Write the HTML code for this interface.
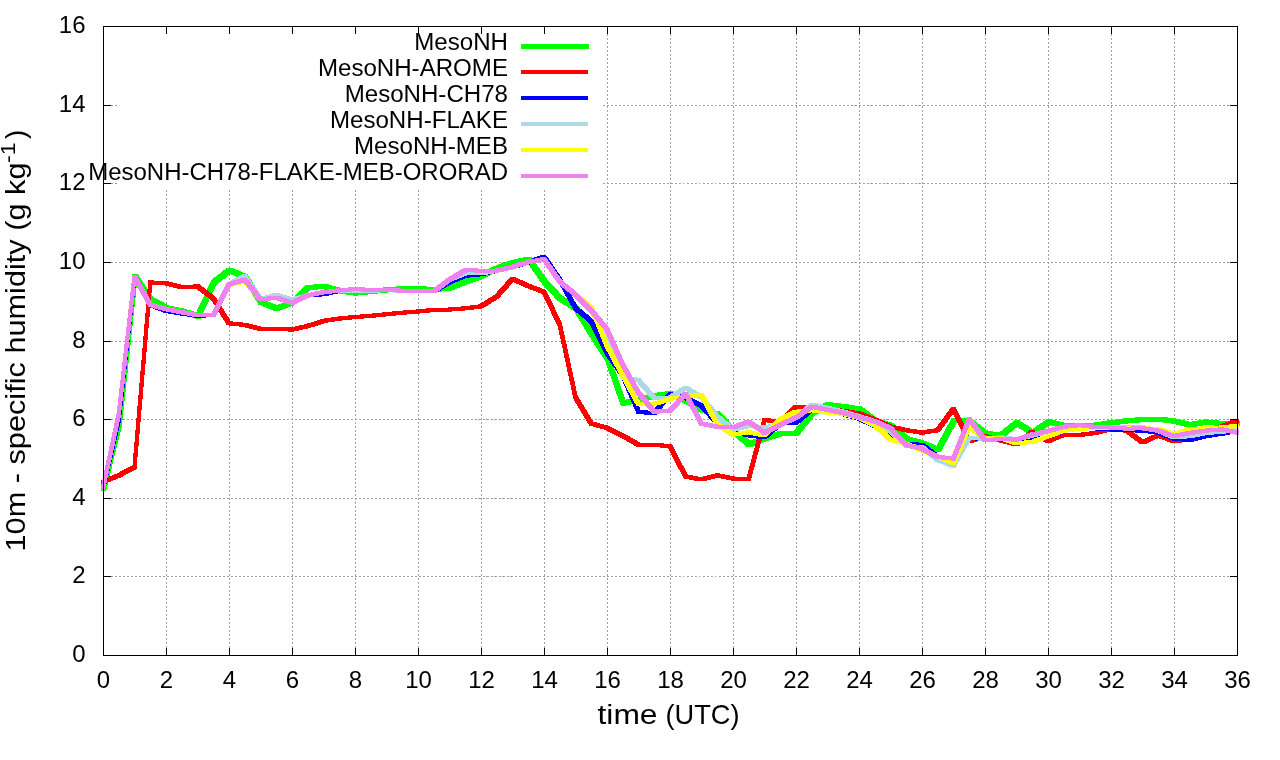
<!DOCTYPE html><html><head><meta charset="utf-8"><style>html,body{margin:0;padding:0;background:#fff;overflow:hidden}svg{display:block;will-change:transform}text{font-family:"Liberation Sans", sans-serif;fill:#000}</style></head><body>
<svg width="1280" height="760" viewBox="0 0 1280 760">
<rect x="0" y="0" width="1280" height="760" fill="#fff"/>
<path d="M166.5 656.0V26.5M229.5 656.0V26.5M292.5 656.0V26.5M355.5 656.0V26.5M418.5 656.0V26.5M481.5 656.0V26.5M544.5 656.0V26.5M607.5 656.0V26.5M670.5 656.0V26.5M733.5 656.0V26.5M796.5 656.0V26.5M859.5 656.0V26.5M922.5 656.0V26.5M985.5 656.0V26.5M1048.5 656.0V26.5M1111.5 656.0V26.5M1174.5 656.0V26.5M102.5 576.5H1237.5M102.5 498.5H1237.5M102.5 419.5H1237.5M102.5 341.5H1237.5M102.5 262.5H1237.5M102.5 183.5H1237.5M102.5 105.5H1237.5" stroke="#a0a0a0" stroke-width="1" stroke-dasharray="2 2" fill="none" shape-rendering="crispEdges"/>
<rect x="118" y="27" width="484" height="162" fill="#fff"/>
<g shape-rendering="crispEdges">
<path d="M101.00 485.92L116.75 421.84L121.75 421.84L121.75 426.84L106.00 490.92L101.00 490.92ZM116.75 421.84L132.50 274.03L137.50 274.03L137.50 279.03L121.75 426.84L116.75 426.84ZM132.50 274.03L137.50 274.03L153.25 296.83L153.25 301.83L148.25 301.83L132.50 279.03ZM148.25 296.83L153.25 296.83L169.00 305.48L169.00 310.48L164.00 310.48L148.25 301.83ZM164.00 305.48L169.00 305.48L184.75 308.62L184.75 313.62L179.75 313.62L164.00 310.48ZM179.75 308.62L184.75 308.62L200.50 313.73L200.50 318.73L195.50 318.73L179.75 313.62ZM195.50 313.73L211.25 279.92L216.25 279.92L216.25 284.92L200.50 318.73L195.50 318.73ZM211.25 279.92L227.00 267.74L232.00 267.74L232.00 272.74L216.25 284.92L211.25 284.92ZM227.00 267.74L232.00 267.74L247.75 274.42L247.75 279.42L242.75 279.42L227.00 272.74ZM242.75 274.42L247.75 274.42L263.50 299.58L263.50 304.58L258.50 304.58L242.75 279.42ZM258.50 299.58L263.50 299.58L279.25 305.87L279.25 310.87L274.25 310.87L258.50 304.58ZM274.25 305.87L290.00 299.97L295.00 299.97L295.00 304.97L279.25 310.87L274.25 310.87ZM290.00 299.97L305.75 285.04L310.75 285.04L310.75 290.04L295.00 304.97L290.00 304.97ZM305.75 285.04L321.50 283.86L326.50 283.86L326.50 288.86L310.75 290.04L305.75 290.04ZM321.50 283.86L326.50 283.86L342.25 288.18L342.25 293.18L337.25 293.18L321.50 288.86ZM337.25 288.18L342.25 288.18L358.00 290.54L358.00 295.54L353.00 295.54L337.25 293.18ZM353.00 290.54L368.75 288.97L373.75 288.97L373.75 293.97L358.00 295.54L353.00 295.54ZM368.75 288.97L384.50 287.39L389.50 287.39L389.50 292.39L373.75 293.97L368.75 293.97ZM384.50 287.39L400.25 286.21L405.25 286.21L405.25 291.21L389.50 292.39L384.50 292.39ZM400.25 286.21L421.00 286.21L421.00 291.21L400.25 291.21ZM416.00 286.21L421.00 286.21L436.75 287.00L436.75 292.00L431.75 292.00L416.00 291.21ZM431.75 287.00L447.50 285.43L452.50 285.43L452.50 290.43L436.75 292.00L431.75 292.00ZM447.50 285.43L463.25 279.14L468.25 279.14L468.25 284.14L452.50 290.43L447.50 290.43ZM463.25 279.14L479.00 273.63L484.00 273.63L484.00 278.63L468.25 284.14L463.25 284.14ZM479.00 273.63L494.75 265.77L499.75 265.77L499.75 270.77L484.00 278.63L479.00 278.63ZM494.75 265.77L510.50 260.27L515.50 260.27L515.50 265.27L499.75 270.77L494.75 270.77ZM510.50 260.27L526.25 256.73L531.25 256.73L531.25 261.73L515.50 265.27L510.50 265.27ZM526.25 256.73L531.25 256.73L547.00 279.14L547.00 284.14L542.00 284.14L526.25 261.73ZM542.00 279.14L547.00 279.14L562.75 296.04L562.75 301.04L557.75 301.04L542.00 284.14ZM557.75 296.04L562.75 296.04L578.50 305.87L578.50 310.87L573.50 310.87L557.75 301.04ZM573.50 305.87L578.50 305.87L594.25 331.42L594.25 336.42L589.25 336.42L573.50 310.87ZM589.25 331.42L594.25 331.42L610.00 355.80L610.00 360.80L605.00 360.80L589.25 336.42ZM605.00 355.80L610.00 355.80L625.75 400.61L625.75 405.61L620.75 405.61L605.00 360.80ZM620.75 400.61L636.50 397.47L641.50 397.47L641.50 402.47L625.75 405.61L620.75 405.61ZM636.50 397.47L652.25 393.14L657.25 393.14L657.25 398.14L641.50 402.47L636.50 402.47ZM652.25 393.14L668.00 391.18L673.00 391.18L673.00 396.18L657.25 398.14L652.25 398.14ZM668.00 391.18L673.00 391.18L688.75 398.25L688.75 403.25L683.75 403.25L668.00 396.18ZM683.75 398.25L688.75 398.25L704.50 407.30L704.50 412.30L699.50 412.30L683.75 403.25ZM699.50 407.30L704.50 407.30L720.25 411.62L720.25 416.62L715.25 416.62L699.50 412.30ZM715.25 411.62L720.25 411.62L736.00 428.53L736.00 433.53L731.00 433.53L715.25 416.62ZM731.00 428.53L736.00 428.53L751.75 441.89L751.75 446.89L746.75 446.89L731.00 433.53ZM746.75 441.89L762.50 436.00L767.50 436.00L767.50 441.00L751.75 446.89L746.75 446.89ZM762.50 436.00L778.25 431.28L783.25 431.28L783.25 436.28L767.50 441.00L762.50 441.00ZM778.25 431.28L794.00 430.49L799.00 430.49L799.00 435.49L783.25 436.28L778.25 436.28ZM794.00 430.49L809.75 410.84L814.75 410.84L814.75 415.84L799.00 435.49L794.00 435.49ZM809.75 410.84L825.50 402.19L830.50 402.19L830.50 407.19L814.75 415.84L809.75 415.84ZM825.50 402.19L830.50 402.19L846.25 404.15L846.25 409.15L841.25 409.15L825.50 407.19ZM841.25 404.15L846.25 404.15L862.00 406.51L862.00 411.51L857.00 411.51L841.25 409.15ZM857.00 406.51L862.00 406.51L877.75 418.30L877.75 423.30L872.75 423.30L857.00 411.51ZM872.75 418.30L877.75 418.30L893.50 423.02L893.50 428.02L888.50 428.02L872.75 423.30ZM888.50 423.02L893.50 423.02L909.25 436.39L909.25 441.39L904.25 441.39L888.50 428.02ZM904.25 436.39L909.25 436.39L925.00 440.71L925.00 445.71L920.00 445.71L904.25 441.39ZM920.00 440.71L925.00 440.71L940.75 447.40L940.75 452.40L935.75 452.40L920.00 445.71ZM935.75 447.40L951.50 417.91L956.50 417.91L956.50 422.91L940.75 452.40L935.75 452.40ZM951.50 417.91L956.50 417.91L972.25 418.70L972.25 423.70L967.25 423.70L951.50 422.91ZM967.25 418.70L972.25 418.70L988.00 430.88L988.00 435.88L983.00 435.88L967.25 423.70ZM983.00 430.88L988.00 430.88L1003.75 432.85L1003.75 437.85L998.75 437.85L983.00 435.88ZM998.75 432.85L1014.50 420.27L1019.50 420.27L1019.50 425.27L1003.75 437.85L998.75 437.85ZM1014.50 420.27L1019.50 420.27L1035.25 430.49L1035.25 435.49L1030.25 435.49L1014.50 425.27ZM1030.25 430.49L1046.00 419.48L1051.00 419.48L1051.00 424.48L1035.25 435.49L1030.25 435.49ZM1046.00 419.48L1051.00 419.48L1066.75 423.02L1066.75 428.02L1061.75 428.02L1046.00 424.48ZM1061.75 423.02L1082.50 423.02L1082.50 428.02L1061.75 428.02ZM1077.50 423.02L1093.25 422.63L1098.25 422.63L1098.25 427.63L1082.50 428.02L1077.50 428.02ZM1093.25 422.63L1109.00 420.27L1114.00 420.27L1114.00 425.27L1098.25 427.63L1093.25 427.63ZM1109.00 420.27L1124.75 418.30L1129.75 418.30L1129.75 423.30L1114.00 425.27L1109.00 425.27ZM1124.75 418.30L1140.50 417.12L1145.50 417.12L1145.50 422.12L1129.75 423.30L1124.75 423.30ZM1140.50 417.12L1156.25 416.73L1161.25 416.73L1161.25 421.73L1145.50 422.12L1140.50 422.12ZM1156.25 416.73L1161.25 416.73L1177.00 418.70L1177.00 423.70L1172.00 423.70L1156.25 421.73ZM1172.00 418.70L1177.00 418.70L1192.75 422.24L1192.75 427.24L1187.75 427.24L1172.00 423.70ZM1187.75 422.24L1203.50 419.48L1208.50 419.48L1208.50 424.48L1192.75 427.24L1187.75 427.24ZM1203.50 419.48L1208.50 419.48L1224.25 421.06L1224.25 426.06L1219.25 426.06L1203.50 424.48ZM1219.25 421.06L1235.00 420.66L1240.00 420.66L1240.00 425.66L1224.25 426.06L1219.25 426.06Z" fill="#00ff00"/>
<path d="M101.00 479.74L116.75 473.45L120.75 473.45L120.75 477.45L105.00 483.74L101.00 483.74ZM116.75 473.45L132.50 465.19L136.50 465.19L136.50 469.19L120.75 477.45L116.75 477.45ZM132.50 465.19L148.25 280.42L152.25 280.42L152.25 284.42L136.50 469.19L132.50 469.19ZM148.25 280.42L152.25 280.42L168.00 281.21L168.00 285.21L164.00 285.21L148.25 284.42ZM164.00 281.21L168.00 281.21L183.75 285.14L183.75 289.14L179.75 289.14L164.00 285.21ZM179.75 285.14L195.50 284.36L199.50 284.36L199.50 288.36L183.75 289.14L179.75 289.14ZM195.50 284.36L199.50 284.36L215.25 296.15L215.25 300.15L211.25 300.15L195.50 288.36ZM211.25 296.15L215.25 296.15L231.00 321.31L231.00 325.31L227.00 325.31L211.25 300.15ZM227.00 321.31L231.00 321.31L246.75 322.88L246.75 326.88L242.75 326.88L227.00 325.31ZM242.75 322.88L246.75 322.88L262.50 326.81L262.50 330.81L258.50 330.81L242.75 326.88ZM258.50 326.81L278.25 326.81L278.25 330.81L258.50 330.81ZM274.25 326.81L278.25 326.81L294.00 327.60L294.00 331.60L290.00 331.60L274.25 330.81ZM290.00 327.60L305.75 324.06L309.75 324.06L309.75 328.06L294.00 331.60L290.00 331.60ZM305.75 324.06L321.50 318.95L325.50 318.95L325.50 322.95L309.75 328.06L305.75 328.06ZM321.50 318.95L337.25 316.59L341.25 316.59L341.25 320.59L325.50 322.95L321.50 322.95ZM337.25 316.59L353.00 315.02L357.00 315.02L357.00 319.02L341.25 320.59L337.25 320.59ZM353.00 315.02L368.75 313.84L372.75 313.84L372.75 317.84L357.00 319.02L353.00 319.02ZM368.75 313.84L384.50 312.27L388.50 312.27L388.50 316.27L372.75 317.84L368.75 317.84ZM384.50 312.27L400.25 310.69L404.25 310.69L404.25 314.69L388.50 316.27L384.50 316.27ZM400.25 310.69L416.00 309.52L420.00 309.52L420.00 313.52L404.25 314.69L400.25 314.69ZM416.00 309.52L431.75 307.94L435.75 307.94L435.75 311.94L420.00 313.52L416.00 313.52ZM431.75 307.94L447.50 307.55L451.50 307.55L451.50 311.55L435.75 311.94L431.75 311.94ZM447.50 307.55L463.25 306.37L467.25 306.37L467.25 310.37L451.50 311.55L447.50 311.55ZM463.25 306.37L479.00 304.40L483.00 304.40L483.00 308.40L467.25 310.37L463.25 310.37ZM479.00 304.40L494.75 294.58L498.75 294.58L498.75 298.58L483.00 308.40L479.00 308.40ZM494.75 294.58L510.50 276.89L514.50 276.89L514.50 280.89L498.75 298.58L494.75 298.58ZM510.50 276.89L514.50 276.89L530.25 283.96L530.25 287.96L526.25 287.96L510.50 280.89ZM526.25 283.96L530.25 283.96L546.00 289.86L546.00 293.86L542.00 293.86L526.25 287.96ZM542.00 289.86L546.00 289.86L561.75 322.49L561.75 326.49L557.75 326.49L542.00 293.86ZM557.75 322.49L561.75 322.49L577.50 395.22L577.50 399.22L573.50 399.22L557.75 326.49ZM573.50 395.22L577.50 395.22L593.25 421.56L593.25 425.56L589.25 425.56L573.50 399.22ZM589.25 421.56L593.25 421.56L609.00 425.88L609.00 429.88L605.00 429.88L589.25 425.56ZM605.00 425.88L609.00 425.88L624.75 433.74L624.75 437.74L620.75 437.74L605.00 429.88ZM620.75 433.74L624.75 433.74L640.50 442.78L640.50 446.78L636.50 446.78L620.75 437.74ZM636.50 442.78L656.25 442.78L656.25 446.78L636.50 446.78ZM652.25 442.78L656.25 442.78L672.00 444.36L672.00 448.36L668.00 448.36L652.25 446.78ZM668.00 444.36L672.00 444.36L687.75 474.63L687.75 478.63L683.75 478.63L668.00 448.36ZM683.75 474.63L687.75 474.63L703.50 477.38L703.50 481.38L699.50 481.38L683.75 478.63ZM699.50 477.38L715.25 473.45L719.25 473.45L719.25 477.45L703.50 481.38L699.50 481.38ZM715.25 473.45L719.25 473.45L735.00 476.59L735.00 480.59L731.00 480.59L715.25 477.45ZM731.00 476.59L750.75 476.59L750.75 480.59L731.00 480.59ZM746.75 476.59L762.50 418.02L766.50 418.02L766.50 422.02L750.75 480.59L746.75 480.59ZM762.50 418.02L766.50 418.02L782.25 419.59L782.25 423.59L778.25 423.59L762.50 422.02ZM778.25 419.59L794.00 404.65L798.00 404.65L798.00 408.65L782.25 423.59L778.25 423.59ZM794.00 404.65L798.00 404.65L813.75 405.44L813.75 409.44L809.75 409.44L794.00 408.65ZM809.75 405.44L813.75 405.44L829.50 406.62L829.50 410.62L825.50 410.62L809.75 409.44ZM825.50 406.62L829.50 406.62L845.25 408.98L845.25 412.98L841.25 412.98L825.50 410.62ZM841.25 408.98L845.25 408.98L861.00 411.34L861.00 415.34L857.00 415.34L841.25 412.98ZM857.00 411.34L861.00 411.34L876.75 417.62L876.75 421.62L872.75 421.62L857.00 415.34ZM872.75 417.62L876.75 417.62L892.50 424.70L892.50 428.70L888.50 428.70L872.75 421.62ZM888.50 424.70L892.50 424.70L908.25 428.24L908.25 432.24L904.25 432.24L888.50 428.70ZM904.25 428.24L908.25 428.24L924.00 430.60L924.00 434.60L920.00 434.60L904.25 432.24ZM920.00 430.60L935.75 428.24L939.75 428.24L939.75 432.24L924.00 434.60L920.00 434.60ZM935.75 428.24L951.50 406.62L955.50 406.62L955.50 410.62L939.75 432.24L935.75 432.24ZM951.50 406.62L955.50 406.62L971.25 439.25L971.25 443.25L967.25 443.25L951.50 410.62ZM967.25 439.25L983.00 434.14L987.00 434.14L987.00 438.14L971.25 443.25L967.25 443.25ZM983.00 434.14L987.00 434.14L1002.75 438.46L1002.75 442.46L998.75 442.46L983.00 438.14ZM998.75 438.46L1002.75 438.46L1018.50 442.39L1018.50 446.39L1014.50 446.39L998.75 442.46ZM1014.50 442.39L1030.25 429.81L1034.25 429.81L1034.25 433.81L1018.50 446.39L1014.50 446.39ZM1030.25 429.81L1034.25 429.81L1050.00 439.25L1050.00 443.25L1046.00 443.25L1030.25 433.81ZM1046.00 439.25L1061.75 432.56L1065.75 432.56L1065.75 436.56L1050.00 443.25L1046.00 443.25ZM1061.75 432.56L1065.75 432.56L1081.50 432.96L1081.50 436.96L1077.50 436.96L1061.75 436.56ZM1077.50 432.96L1093.25 430.99L1097.25 430.99L1097.25 434.99L1081.50 436.96L1077.50 436.96ZM1093.25 430.99L1109.00 427.06L1113.00 427.06L1113.00 431.06L1097.25 434.99L1093.25 434.99ZM1109.00 427.06L1113.00 427.06L1128.75 428.63L1128.75 432.63L1124.75 432.63L1109.00 431.06ZM1124.75 428.63L1128.75 428.63L1144.50 440.43L1144.50 444.43L1140.50 444.43L1124.75 432.63ZM1140.50 440.43L1156.25 433.35L1160.25 433.35L1160.25 437.35L1144.50 444.43L1140.50 444.43ZM1156.25 433.35L1160.25 433.35L1176.00 439.25L1176.00 443.25L1172.00 443.25L1156.25 437.35ZM1172.00 439.25L1187.75 437.28L1191.75 437.28L1191.75 441.28L1176.00 443.25L1172.00 443.25ZM1187.75 437.28L1203.50 433.35L1207.50 433.35L1207.50 437.35L1191.75 441.28L1187.75 441.28ZM1203.50 433.35L1219.25 424.70L1223.25 424.70L1223.25 428.70L1207.50 437.35L1203.50 437.35ZM1219.25 424.70L1235.00 418.80L1239.00 418.80L1239.00 422.80L1223.25 428.70L1219.25 428.70Z" fill="#ff0000"/>
<path d="M101.00 486.42L116.75 417.62L120.75 417.62L120.75 421.62L105.00 490.42L101.00 490.42ZM116.75 417.62L132.50 274.53L136.50 274.53L136.50 278.53L120.75 421.62L116.75 421.62ZM132.50 274.53L136.50 274.53L152.25 302.83L152.25 306.83L148.25 306.83L132.50 278.53ZM148.25 302.83L152.25 302.83L168.00 308.73L168.00 312.73L164.00 312.73L148.25 306.83ZM164.00 308.73L168.00 308.73L183.75 311.48L183.75 315.48L179.75 315.48L164.00 312.73ZM179.75 311.48L183.75 311.48L199.50 313.84L199.50 317.84L195.50 317.84L179.75 315.48ZM195.50 313.84L211.25 313.05L215.25 313.05L215.25 317.05L199.50 317.84L195.50 317.84ZM211.25 313.05L227.00 282.39L231.00 282.39L231.00 286.39L215.25 317.05L211.25 317.05ZM227.00 282.39L242.75 277.67L246.75 277.67L246.75 281.67L231.00 286.39L227.00 286.39ZM242.75 277.67L246.75 277.67L262.50 297.33L262.50 301.33L258.50 301.33L242.75 281.67ZM258.50 297.33L274.25 295.76L278.25 295.76L278.25 299.76L262.50 301.33L258.50 301.33ZM274.25 295.76L278.25 295.76L294.00 300.87L294.00 304.87L290.00 304.87L274.25 299.76ZM290.00 300.87L305.75 293.40L309.75 293.40L309.75 297.40L294.00 304.87L290.00 304.87ZM305.75 293.40L321.50 292.22L325.50 292.22L325.50 296.22L309.75 297.40L305.75 297.40ZM321.50 292.22L337.25 288.68L341.25 288.68L341.25 292.68L325.50 296.22L321.50 296.22ZM337.25 288.68L353.00 287.89L357.00 287.89L357.00 291.89L341.25 292.68L337.25 292.68ZM353.00 287.89L357.00 287.89L372.75 288.68L372.75 292.68L368.75 292.68L353.00 291.89ZM368.75 288.68L384.50 287.89L388.50 287.89L388.50 291.89L372.75 292.68L368.75 292.68ZM384.50 287.89L388.50 287.89L404.25 288.68L404.25 292.68L400.25 292.68L384.50 291.89ZM400.25 288.68L404.25 288.68L420.00 289.47L420.00 293.47L416.00 293.47L400.25 292.68ZM416.00 289.47L435.75 289.47L435.75 293.47L416.00 293.47ZM431.75 289.47L447.50 280.03L451.50 280.03L451.50 284.03L435.75 293.47L431.75 293.47ZM447.50 280.03L463.25 273.74L467.25 273.74L467.25 277.74L451.50 284.03L447.50 284.03ZM463.25 273.74L479.00 272.17L483.00 272.17L483.00 276.17L467.25 277.74L463.25 277.74ZM479.00 272.17L494.75 268.63L498.75 268.63L498.75 272.63L483.00 276.17L479.00 276.17ZM494.75 268.63L510.50 265.09L514.50 265.09L514.50 269.09L498.75 272.63L494.75 272.63ZM510.50 265.09L526.25 260.38L530.25 260.38L530.25 264.38L514.50 269.09L510.50 269.09ZM526.25 260.38L542.00 254.87L546.00 254.87L546.00 258.87L530.25 264.38L526.25 264.38ZM542.00 254.87L546.00 254.87L561.75 277.67L561.75 281.67L557.75 281.67L542.00 258.87ZM557.75 277.67L561.75 277.67L577.50 305.98L577.50 309.98L573.50 309.98L557.75 281.67ZM573.50 305.98L577.50 305.98L593.25 319.34L593.25 323.34L589.25 323.34L573.50 309.98ZM589.25 319.34L593.25 319.34L609.00 351.19L609.00 355.19L605.00 355.19L589.25 323.34ZM605.00 351.19L609.00 351.19L624.75 373.20L624.75 377.20L620.75 377.20L605.00 355.19ZM620.75 373.20L624.75 373.20L640.50 409.76L640.50 413.76L636.50 413.76L620.75 377.20ZM636.50 409.76L640.50 409.76L656.25 411.34L656.25 415.34L652.25 415.34L636.50 413.76ZM652.25 411.34L668.00 392.07L672.00 392.07L672.00 396.07L656.25 415.34L652.25 415.34ZM668.00 392.07L672.00 392.07L687.75 396.00L687.75 400.00L683.75 400.00L668.00 396.07ZM683.75 396.00L687.75 396.00L703.50 403.87L703.50 407.87L699.50 407.87L683.75 400.00ZM699.50 403.87L703.50 403.87L719.25 420.77L719.25 424.77L715.25 424.77L699.50 407.87ZM715.25 420.77L719.25 420.77L735.00 430.21L735.00 434.21L731.00 434.21L715.25 424.77ZM731.00 430.21L735.00 430.21L750.75 433.35L750.75 437.35L746.75 437.35L731.00 434.21ZM746.75 433.35L750.75 433.35L766.50 435.32L766.50 439.32L762.50 439.32L746.75 437.35ZM762.50 435.32L778.25 421.56L782.25 421.56L782.25 425.56L766.50 439.32L762.50 439.32ZM778.25 421.56L794.00 420.77L798.00 420.77L798.00 424.77L782.25 425.56L778.25 425.56ZM794.00 420.77L809.75 407.40L813.75 407.40L813.75 411.40L798.00 424.77L794.00 424.77ZM809.75 407.40L813.75 407.40L829.50 408.98L829.50 412.98L825.50 412.98L809.75 411.40ZM825.50 408.98L829.50 408.98L845.25 412.12L845.25 416.12L841.25 416.12L825.50 412.98ZM841.25 412.12L845.25 412.12L861.00 416.45L861.00 420.45L857.00 420.45L841.25 416.12ZM857.00 416.45L861.00 416.45L876.75 423.91L876.75 427.91L872.75 427.91L857.00 420.45ZM872.75 423.91L876.75 423.91L892.50 435.71L892.50 439.71L888.50 439.71L872.75 427.91ZM888.50 435.71L892.50 435.71L908.25 442.00L908.25 446.00L904.25 446.00L888.50 439.71ZM904.25 442.00L908.25 442.00L924.00 442.78L924.00 446.78L920.00 446.78L904.25 446.00ZM920.00 442.78L924.00 442.78L939.75 454.97L939.75 458.97L935.75 458.97L920.00 446.78ZM935.75 454.97L939.75 454.97L955.50 458.90L955.50 462.90L951.50 462.90L935.75 458.97ZM951.50 458.90L967.25 435.71L971.25 435.71L971.25 439.71L955.50 462.90L951.50 462.90ZM967.25 435.71L971.25 435.71L987.00 437.28L987.00 441.28L983.00 441.28L967.25 439.71ZM983.00 437.28L1002.75 437.28L1002.75 441.28L983.00 441.28ZM998.75 437.28L1002.75 437.28L1018.50 439.25L1018.50 443.25L1014.50 443.25L998.75 441.28ZM1014.50 439.25L1030.25 437.28L1034.25 437.28L1034.25 441.28L1018.50 443.25L1014.50 443.25ZM1030.25 437.28L1046.00 434.53L1050.00 434.53L1050.00 438.53L1034.25 441.28L1030.25 441.28ZM1046.00 434.53L1061.75 428.63L1065.75 428.63L1065.75 432.63L1050.00 438.53L1046.00 438.53ZM1061.75 428.63L1077.50 426.27L1081.50 426.27L1081.50 430.27L1065.75 432.63L1061.75 432.63ZM1077.50 426.27L1097.25 426.27L1097.25 430.27L1077.50 430.27ZM1093.25 426.27L1097.25 426.27L1113.00 427.45L1113.00 431.45L1109.00 431.45L1093.25 430.27ZM1109.00 427.45L1113.00 427.45L1128.75 428.24L1128.75 432.24L1124.75 432.24L1109.00 431.45ZM1124.75 428.24L1128.75 428.24L1144.50 428.63L1144.50 432.63L1140.50 432.63L1124.75 432.24ZM1140.50 428.63L1144.50 428.63L1160.25 430.60L1160.25 434.60L1156.25 434.60L1140.50 432.63ZM1156.25 430.60L1160.25 430.60L1176.00 436.50L1176.00 440.50L1172.00 440.50L1156.25 434.60ZM1172.00 436.50L1176.00 436.50L1191.75 438.07L1191.75 442.07L1187.75 442.07L1172.00 440.50ZM1187.75 438.07L1203.50 434.14L1207.50 434.14L1207.50 438.14L1191.75 442.07L1187.75 442.07ZM1203.50 434.14L1219.25 431.78L1223.25 431.78L1223.25 435.78L1207.50 438.14L1203.50 438.14ZM1219.25 431.78L1235.00 428.63L1239.00 428.63L1239.00 432.63L1223.25 435.78L1219.25 435.78Z" fill="#0000ff"/>
<path d="M101.00 486.03L116.75 412.51L120.75 412.51L120.75 416.51L105.00 490.03L101.00 490.03ZM116.75 412.51L132.50 274.53L136.50 274.53L136.50 278.53L120.75 416.51L116.75 416.51ZM132.50 274.53L136.50 274.53L152.25 302.83L152.25 306.83L148.25 306.83L132.50 278.53ZM148.25 302.83L152.25 302.83L168.00 307.16L168.00 311.16L164.00 311.16L148.25 306.83ZM164.00 307.16L168.00 307.16L183.75 310.30L183.75 314.30L179.75 314.30L164.00 311.16ZM179.75 310.30L183.75 310.30L199.50 313.05L199.50 317.05L195.50 317.05L179.75 314.30ZM195.50 313.05L215.25 313.05L215.25 317.05L195.50 317.05ZM211.25 313.05L227.00 282.39L231.00 282.39L231.00 286.39L215.25 317.05L211.25 317.05ZM227.00 282.39L242.75 274.13L246.75 274.13L246.75 278.13L231.00 286.39L227.00 286.39ZM242.75 274.13L246.75 274.13L262.50 297.33L262.50 301.33L258.50 301.33L242.75 278.13ZM258.50 297.33L274.25 293.00L278.25 293.00L278.25 297.00L262.50 301.33L258.50 301.33ZM274.25 293.00L278.25 293.00L294.00 297.72L294.00 301.72L290.00 301.72L274.25 297.00ZM290.00 297.72L305.75 293.40L309.75 293.40L309.75 297.40L294.00 301.72L290.00 301.72ZM305.75 293.40L321.50 290.25L325.50 290.25L325.50 294.25L309.75 297.40L305.75 297.40ZM321.50 290.25L337.25 288.29L341.25 288.29L341.25 292.29L325.50 294.25L321.50 294.25ZM337.25 288.29L341.25 288.29L357.00 289.47L357.00 293.47L353.00 293.47L337.25 292.29ZM353.00 289.47L368.75 288.68L372.75 288.68L372.75 292.68L357.00 293.47L353.00 293.47ZM368.75 288.68L384.50 288.29L388.50 288.29L388.50 292.29L372.75 292.68L368.75 292.68ZM384.50 288.29L388.50 288.29L404.25 288.68L404.25 292.68L400.25 292.68L384.50 292.29ZM400.25 288.68L404.25 288.68L420.00 289.47L420.00 293.47L416.00 293.47L400.25 292.68ZM416.00 289.47L435.75 289.47L435.75 293.47L416.00 293.47ZM431.75 289.47L447.50 277.67L451.50 277.67L451.50 281.67L435.75 293.47L431.75 293.47ZM447.50 277.67L463.25 271.38L467.25 271.38L467.25 275.38L451.50 281.67L447.50 281.67ZM463.25 271.38L483.00 271.38L483.00 275.38L463.25 275.38ZM479.00 271.38L494.75 268.63L498.75 268.63L498.75 272.63L483.00 275.38L479.00 275.38ZM494.75 268.63L510.50 265.09L514.50 265.09L514.50 269.09L498.75 272.63L494.75 272.63ZM510.50 265.09L526.25 259.98L530.25 259.98L530.25 263.98L514.50 269.09L510.50 269.09ZM526.25 259.98L542.00 257.23L546.00 257.23L546.00 261.23L530.25 263.98L526.25 263.98ZM542.00 257.23L546.00 257.23L561.75 279.64L561.75 283.64L557.75 283.64L542.00 261.23ZM557.75 279.64L561.75 279.64L577.50 292.61L577.50 296.61L573.50 296.61L557.75 283.64ZM573.50 292.61L577.50 292.61L593.25 308.34L593.25 312.34L589.25 312.34L573.50 296.61ZM589.25 308.34L593.25 308.34L609.00 335.07L609.00 339.07L605.00 339.07L589.25 312.34ZM605.00 335.07L609.00 335.07L624.75 374.77L624.75 378.77L620.75 378.77L605.00 339.07ZM620.75 374.77L624.75 374.77L640.50 378.31L640.50 382.31L636.50 382.31L620.75 378.77ZM636.50 378.31L640.50 378.31L656.25 396.00L656.25 400.00L652.25 400.00L636.50 382.31ZM652.25 396.00L668.00 395.61L672.00 395.61L672.00 399.61L656.25 400.00L652.25 400.00ZM668.00 395.61L683.75 385.78L687.75 385.78L687.75 389.78L672.00 399.61L668.00 399.61ZM683.75 385.78L687.75 385.78L703.50 395.22L703.50 399.22L699.50 399.22L683.75 389.78ZM699.50 395.22L703.50 395.22L719.25 414.48L719.25 418.48L715.25 418.48L699.50 399.22ZM715.25 414.48L719.25 414.48L735.00 427.85L735.00 431.85L731.00 431.85L715.25 418.48ZM731.00 427.85L746.75 423.91L750.75 423.91L750.75 427.91L735.00 431.85L731.00 431.85ZM746.75 423.91L750.75 423.91L766.50 425.49L766.50 429.49L762.50 429.49L746.75 427.91ZM762.50 425.49L778.25 422.74L782.25 422.74L782.25 426.74L766.50 429.49L762.50 429.49ZM778.25 422.74L794.00 415.66L798.00 415.66L798.00 419.66L782.25 426.74L778.25 426.74ZM794.00 415.66L809.75 402.69L813.75 402.69L813.75 406.69L798.00 419.66L794.00 419.66ZM809.75 402.69L813.75 402.69L829.50 405.83L829.50 409.83L825.50 409.83L809.75 406.69ZM825.50 405.83L829.50 405.83L845.25 409.76L845.25 413.76L841.25 413.76L825.50 409.83ZM841.25 409.76L845.25 409.76L861.00 414.48L861.00 418.48L857.00 418.48L841.25 413.76ZM857.00 414.48L861.00 414.48L876.75 419.20L876.75 423.20L872.75 423.20L857.00 418.48ZM872.75 419.20L876.75 419.20L892.50 429.42L892.50 433.42L888.50 433.42L872.75 423.20ZM888.50 429.42L892.50 429.42L908.25 443.96L908.25 447.96L904.25 447.96L888.50 433.42ZM904.25 443.96L908.25 443.96L924.00 445.14L924.00 449.14L920.00 449.14L904.25 447.96ZM920.00 445.14L924.00 445.14L939.75 458.12L939.75 462.12L935.75 462.12L920.00 449.14ZM935.75 458.12L939.75 458.12L955.50 463.62L955.50 467.62L951.50 467.62L935.75 462.12ZM951.50 463.62L967.25 435.71L971.25 435.71L971.25 439.71L955.50 467.62L951.50 467.62ZM967.25 435.71L971.25 435.71L987.00 436.89L987.00 440.89L983.00 440.89L967.25 439.71ZM983.00 436.89L998.75 435.32L1002.75 435.32L1002.75 439.32L987.00 440.89L983.00 440.89ZM998.75 435.32L1002.75 435.32L1018.50 437.28L1018.50 441.28L1014.50 441.28L998.75 439.32ZM1014.50 437.28L1030.25 433.35L1034.25 433.35L1034.25 437.35L1018.50 441.28L1014.50 441.28ZM1030.25 433.35L1046.00 429.42L1050.00 429.42L1050.00 433.42L1034.25 437.35L1030.25 437.35ZM1046.00 429.42L1061.75 426.27L1065.75 426.27L1065.75 430.27L1050.00 433.42L1046.00 433.42ZM1061.75 426.27L1081.50 426.27L1081.50 430.27L1061.75 430.27ZM1077.50 426.27L1093.25 425.49L1097.25 425.49L1097.25 429.49L1081.50 430.27L1077.50 430.27ZM1093.25 425.49L1113.00 425.49L1113.00 429.49L1093.25 429.49ZM1109.00 425.49L1124.75 424.70L1128.75 424.70L1128.75 428.70L1113.00 429.49L1109.00 429.49ZM1124.75 424.70L1128.75 424.70L1144.50 425.49L1144.50 429.49L1140.50 429.49L1124.75 428.70ZM1140.50 425.49L1144.50 425.49L1160.25 428.63L1160.25 432.63L1156.25 432.63L1140.50 429.49ZM1156.25 428.63L1160.25 428.63L1176.00 435.32L1176.00 439.32L1172.00 439.32L1156.25 432.63ZM1172.00 435.32L1187.75 434.14L1191.75 434.14L1191.75 438.14L1176.00 439.32L1172.00 439.32ZM1187.75 434.14L1203.50 430.99L1207.50 430.99L1207.50 434.99L1191.75 438.14L1187.75 438.14ZM1203.50 430.99L1219.25 429.81L1223.25 429.81L1223.25 433.81L1207.50 434.99L1203.50 434.99ZM1219.25 429.81L1235.00 427.85L1239.00 427.85L1239.00 431.85L1223.25 433.81L1219.25 433.81Z" fill="#add8e6"/>
<path d="M101.00 486.03L116.75 412.51L120.75 412.51L120.75 416.51L105.00 490.03L101.00 490.03ZM116.75 412.51L132.50 274.53L136.50 274.53L136.50 278.53L120.75 416.51L116.75 416.51ZM132.50 274.53L136.50 274.53L152.25 302.83L152.25 306.83L148.25 306.83L132.50 278.53ZM148.25 302.83L152.25 302.83L168.00 307.16L168.00 311.16L164.00 311.16L148.25 306.83ZM164.00 307.16L168.00 307.16L183.75 310.30L183.75 314.30L179.75 314.30L164.00 311.16ZM179.75 310.30L183.75 310.30L199.50 313.05L199.50 317.05L195.50 317.05L179.75 314.30ZM195.50 313.05L215.25 313.05L215.25 317.05L195.50 317.05ZM211.25 313.05L227.00 283.18L231.00 283.18L231.00 287.18L215.25 317.05L211.25 317.05ZM227.00 283.18L242.75 278.85L246.75 278.85L246.75 282.85L231.00 287.18L227.00 287.18ZM242.75 278.85L246.75 278.85L262.50 297.33L262.50 301.33L258.50 301.33L242.75 282.85ZM258.50 297.33L274.25 295.76L278.25 295.76L278.25 299.76L262.50 301.33L258.50 301.33ZM274.25 295.76L278.25 295.76L294.00 300.87L294.00 304.87L290.00 304.87L274.25 299.76ZM290.00 300.87L305.75 293.40L309.75 293.40L309.75 297.40L294.00 304.87L290.00 304.87ZM305.75 293.40L321.50 290.25L325.50 290.25L325.50 294.25L309.75 297.40L305.75 297.40ZM321.50 290.25L337.25 288.29L341.25 288.29L341.25 292.29L325.50 294.25L321.50 294.25ZM337.25 288.29L353.00 287.11L357.00 287.11L357.00 291.11L341.25 292.29L337.25 292.29ZM353.00 287.11L357.00 287.11L372.75 287.89L372.75 291.89L368.75 291.89L353.00 291.11ZM368.75 287.89L388.50 287.89L388.50 291.89L368.75 291.89ZM384.50 287.89L388.50 287.89L404.25 288.68L404.25 292.68L400.25 292.68L384.50 291.89ZM400.25 288.68L404.25 288.68L420.00 289.47L420.00 293.47L416.00 293.47L400.25 292.68ZM416.00 289.47L435.75 289.47L435.75 293.47L416.00 293.47ZM431.75 289.47L447.50 277.67L451.50 277.67L451.50 281.67L435.75 293.47L431.75 293.47ZM447.50 277.67L463.25 268.24L467.25 268.24L467.25 272.24L451.50 281.67L447.50 281.67ZM463.25 268.24L467.25 268.24L483.00 268.63L483.00 272.63L479.00 272.63L463.25 272.24ZM479.00 268.63L498.75 268.63L498.75 272.63L479.00 272.63ZM494.75 268.63L510.50 265.09L514.50 265.09L514.50 269.09L498.75 272.63L494.75 272.63ZM510.50 265.09L526.25 259.98L530.25 259.98L530.25 263.98L514.50 269.09L510.50 269.09ZM526.25 259.98L542.00 257.23L546.00 257.23L546.00 261.23L530.25 263.98L526.25 263.98ZM542.00 257.23L546.00 257.23L561.75 279.64L561.75 283.64L557.75 283.64L542.00 261.23ZM557.75 279.64L561.75 279.64L577.50 292.61L577.50 296.61L573.50 296.61L557.75 283.64ZM573.50 292.61L577.50 292.61L593.25 305.19L593.25 309.19L589.25 309.19L573.50 296.61ZM589.25 305.19L593.25 305.19L609.00 343.72L609.00 347.72L605.00 347.72L589.25 309.19ZM605.00 343.72L609.00 343.72L624.75 373.20L624.75 377.20L620.75 377.20L605.00 347.72ZM620.75 373.20L624.75 373.20L640.50 402.29L640.50 406.29L636.50 406.29L620.75 377.20ZM636.50 402.29L652.25 401.90L656.25 401.90L656.25 405.90L640.50 406.29L636.50 406.29ZM652.25 401.90L668.00 396.79L672.00 396.79L672.00 400.79L656.25 405.90L652.25 405.90ZM668.00 396.79L683.75 394.43L687.75 394.43L687.75 398.43L672.00 400.79L668.00 400.79ZM683.75 394.43L699.50 392.86L703.50 392.86L703.50 396.86L687.75 398.43L683.75 398.43ZM699.50 392.86L703.50 392.86L719.25 422.34L719.25 426.34L715.25 426.34L699.50 396.86ZM715.25 422.34L719.25 422.34L735.00 432.56L735.00 436.56L731.00 436.56L715.25 426.34ZM731.00 432.56L746.75 430.21L750.75 430.21L750.75 434.21L735.00 436.56L731.00 436.56ZM746.75 430.21L750.75 430.21L766.50 433.35L766.50 437.35L762.50 437.35L746.75 434.21ZM762.50 433.35L778.25 417.62L782.25 417.62L782.25 421.62L766.50 437.35L762.50 437.35ZM778.25 417.62L794.00 409.76L798.00 409.76L798.00 413.76L782.25 421.62L778.25 421.62ZM794.00 409.76L809.75 408.19L813.75 408.19L813.75 412.19L798.00 413.76L794.00 413.76ZM809.75 408.19L813.75 408.19L829.50 410.55L829.50 414.55L825.50 414.55L809.75 412.19ZM825.50 410.55L829.50 410.55L845.25 411.73L845.25 415.73L841.25 415.73L825.50 414.55ZM841.25 411.73L845.25 411.73L861.00 415.66L861.00 419.66L857.00 419.66L841.25 415.73ZM857.00 415.66L861.00 415.66L876.75 423.13L876.75 427.13L872.75 427.13L857.00 419.66ZM872.75 423.13L876.75 423.13L892.50 437.67L892.50 441.67L888.50 441.67L872.75 427.13ZM888.50 437.67L892.50 437.67L908.25 442.00L908.25 446.00L904.25 446.00L888.50 441.67ZM904.25 442.00L908.25 442.00L924.00 448.29L924.00 452.29L920.00 452.29L904.25 446.00ZM920.00 448.29L924.00 448.29L939.75 454.19L939.75 458.19L935.75 458.19L920.00 452.29ZM935.75 454.19L939.75 454.19L955.50 461.26L955.50 465.26L951.50 465.26L935.75 458.19ZM951.50 461.26L967.25 424.70L971.25 424.70L971.25 428.70L955.50 465.26L951.50 465.26ZM967.25 424.70L971.25 424.70L987.00 436.50L987.00 440.50L983.00 440.50L967.25 428.70ZM983.00 436.50L998.75 436.10L1002.75 436.10L1002.75 440.10L987.00 440.50L983.00 440.50ZM998.75 436.10L1002.75 436.10L1018.50 441.21L1018.50 445.21L1014.50 445.21L998.75 440.10ZM1014.50 441.21L1030.25 440.03L1034.25 440.03L1034.25 444.03L1018.50 445.21L1014.50 445.21ZM1030.25 440.03L1046.00 434.14L1050.00 434.14L1050.00 438.14L1034.25 444.03L1030.25 444.03ZM1046.00 434.14L1061.75 428.63L1065.75 428.63L1065.75 432.63L1050.00 438.14L1046.00 438.14ZM1061.75 428.63L1077.50 426.67L1081.50 426.67L1081.50 430.67L1065.75 432.63L1061.75 432.63ZM1077.50 426.67L1093.25 426.27L1097.25 426.27L1097.25 430.27L1081.50 430.67L1077.50 430.67ZM1093.25 426.27L1113.00 426.27L1113.00 430.27L1093.25 430.27ZM1109.00 426.27L1128.75 426.27L1128.75 430.27L1109.00 430.27ZM1124.75 426.27L1144.50 426.27L1144.50 430.27L1124.75 430.27ZM1140.50 426.27L1144.50 426.27L1160.25 427.06L1160.25 431.06L1156.25 431.06L1140.50 430.27ZM1156.25 427.06L1160.25 427.06L1176.00 432.17L1176.00 436.17L1172.00 436.17L1156.25 431.06ZM1172.00 432.17L1187.75 427.45L1191.75 427.45L1191.75 431.45L1176.00 436.17L1172.00 436.17ZM1187.75 427.45L1203.50 426.27L1207.50 426.27L1207.50 430.27L1191.75 431.45L1187.75 431.45ZM1203.50 426.27L1219.25 425.49L1223.25 425.49L1223.25 429.49L1207.50 430.27L1203.50 430.27ZM1219.25 425.49L1235.00 423.91L1239.00 423.91L1239.00 427.91L1223.25 429.49L1219.25 429.49Z" fill="#ffff00"/>
<path d="M101.00 486.03L116.75 412.51L120.75 412.51L120.75 416.51L105.00 490.03L101.00 490.03ZM116.75 412.51L132.50 274.53L136.50 274.53L136.50 278.53L120.75 416.51L116.75 416.51ZM132.50 274.53L136.50 274.53L152.25 302.83L152.25 306.83L148.25 306.83L132.50 278.53ZM148.25 302.83L152.25 302.83L168.00 307.16L168.00 311.16L164.00 311.16L148.25 306.83ZM164.00 307.16L168.00 307.16L183.75 310.30L183.75 314.30L179.75 314.30L164.00 311.16ZM179.75 310.30L183.75 310.30L199.50 313.05L199.50 317.05L195.50 317.05L179.75 314.30ZM195.50 313.05L215.25 313.05L215.25 317.05L195.50 317.05ZM211.25 313.05L227.00 282.39L231.00 282.39L231.00 286.39L215.25 317.05L211.25 317.05ZM227.00 282.39L242.75 277.67L246.75 277.67L246.75 281.67L231.00 286.39L227.00 286.39ZM242.75 277.67L246.75 277.67L262.50 297.33L262.50 301.33L258.50 301.33L242.75 281.67ZM258.50 297.33L274.25 295.76L278.25 295.76L278.25 299.76L262.50 301.33L258.50 301.33ZM274.25 295.76L278.25 295.76L294.00 300.87L294.00 304.87L290.00 304.87L274.25 299.76ZM290.00 300.87L305.75 293.40L309.75 293.40L309.75 297.40L294.00 304.87L290.00 304.87ZM305.75 293.40L321.50 290.25L325.50 290.25L325.50 294.25L309.75 297.40L305.75 297.40ZM321.50 290.25L337.25 288.29L341.25 288.29L341.25 292.29L325.50 294.25L321.50 294.25ZM337.25 288.29L353.00 287.11L357.00 287.11L357.00 291.11L341.25 292.29L337.25 292.29ZM353.00 287.11L357.00 287.11L372.75 287.89L372.75 291.89L368.75 291.89L353.00 291.11ZM368.75 287.89L388.50 287.89L388.50 291.89L368.75 291.89ZM384.50 287.89L388.50 287.89L404.25 288.68L404.25 292.68L400.25 292.68L384.50 291.89ZM400.25 288.68L404.25 288.68L420.00 289.47L420.00 293.47L416.00 293.47L400.25 292.68ZM416.00 289.47L435.75 289.47L435.75 293.47L416.00 293.47ZM431.75 289.47L447.50 277.67L451.50 277.67L451.50 281.67L435.75 293.47L431.75 293.47ZM447.50 277.67L463.25 268.24L467.25 268.24L467.25 272.24L451.50 281.67L447.50 281.67ZM463.25 268.24L467.25 268.24L483.00 268.63L483.00 272.63L479.00 272.63L463.25 272.24ZM479.00 268.63L498.75 268.63L498.75 272.63L479.00 272.63ZM494.75 268.63L510.50 265.09L514.50 265.09L514.50 269.09L498.75 272.63L494.75 272.63ZM510.50 265.09L526.25 259.98L530.25 259.98L530.25 263.98L514.50 269.09L510.50 269.09ZM526.25 259.98L542.00 257.23L546.00 257.23L546.00 261.23L530.25 263.98L526.25 263.98ZM542.00 257.23L546.00 257.23L561.75 279.64L561.75 283.64L557.75 283.64L542.00 261.23ZM557.75 279.64L561.75 279.64L577.50 292.61L577.50 296.61L573.50 296.61L557.75 283.64ZM573.50 292.61L577.50 292.61L593.25 308.34L593.25 312.34L589.25 312.34L573.50 296.61ZM589.25 308.34L593.25 308.34L609.00 327.21L609.00 331.21L605.00 331.21L589.25 312.34ZM605.00 327.21L609.00 327.21L624.75 362.59L624.75 366.59L620.75 366.59L605.00 331.21ZM620.75 362.59L624.75 362.59L640.50 390.89L640.50 394.89L636.50 394.89L620.75 366.59ZM636.50 390.89L640.50 390.89L656.25 409.76L656.25 413.76L652.25 413.76L636.50 394.89ZM652.25 409.76L668.00 408.58L672.00 408.58L672.00 412.58L656.25 413.76L652.25 413.76ZM668.00 408.58L683.75 391.68L687.75 391.68L687.75 395.68L672.00 412.58L668.00 412.58ZM683.75 391.68L687.75 391.68L703.50 421.56L703.50 425.56L699.50 425.56L683.75 395.68ZM699.50 421.56L703.50 421.56L719.25 424.70L719.25 428.70L715.25 428.70L699.50 425.56ZM715.25 424.70L719.25 424.70L735.00 425.49L735.00 429.49L731.00 429.49L715.25 428.70ZM731.00 425.49L746.75 419.59L750.75 419.59L750.75 423.59L735.00 429.49L731.00 429.49ZM746.75 419.59L750.75 419.59L766.50 430.60L766.50 434.60L762.50 434.60L746.75 423.59ZM762.50 430.60L778.25 422.74L782.25 422.74L782.25 426.74L766.50 434.60L762.50 434.60ZM778.25 422.74L794.00 415.66L798.00 415.66L798.00 419.66L782.25 426.74L778.25 426.74ZM794.00 415.66L809.75 404.65L813.75 404.65L813.75 408.65L798.00 419.66L794.00 419.66ZM809.75 404.65L813.75 404.65L829.50 407.80L829.50 411.80L825.50 411.80L809.75 408.65ZM825.50 407.80L829.50 407.80L845.25 410.94L845.25 414.94L841.25 414.94L825.50 411.80ZM841.25 410.94L845.25 410.94L861.00 415.27L861.00 419.27L857.00 419.27L841.25 414.94ZM857.00 415.27L861.00 415.27L876.75 419.20L876.75 423.20L872.75 423.20L857.00 419.27ZM872.75 419.20L876.75 419.20L892.50 426.27L892.50 430.27L888.50 430.27L872.75 423.20ZM888.50 426.27L892.50 426.27L908.25 443.18L908.25 447.18L904.25 447.18L888.50 430.27ZM904.25 443.18L908.25 443.18L924.00 446.72L924.00 450.72L920.00 450.72L904.25 447.18ZM920.00 446.72L924.00 446.72L939.75 454.97L939.75 458.97L935.75 458.97L920.00 450.72ZM935.75 454.97L939.75 454.97L955.50 456.54L955.50 460.54L951.50 460.54L935.75 458.97ZM951.50 456.54L967.25 416.84L971.25 416.84L971.25 420.84L955.50 460.54L951.50 460.54ZM967.25 416.84L971.25 416.84L987.00 438.46L987.00 442.46L983.00 442.46L967.25 420.84ZM983.00 438.46L998.75 436.89L1002.75 436.89L1002.75 440.89L987.00 442.46L983.00 442.46ZM998.75 436.89L1002.75 436.89L1018.50 437.67L1018.50 441.67L1014.50 441.67L998.75 440.89ZM1014.50 437.67L1030.25 432.56L1034.25 432.56L1034.25 436.56L1018.50 441.67L1014.50 441.67ZM1030.25 432.56L1046.00 429.03L1050.00 429.03L1050.00 433.03L1034.25 436.56L1030.25 436.56ZM1046.00 429.03L1061.75 424.70L1065.75 424.70L1065.75 428.70L1050.00 433.03L1046.00 433.03ZM1061.75 424.70L1077.50 423.13L1081.50 423.13L1081.50 427.13L1065.75 428.70L1061.75 428.70ZM1077.50 423.13L1081.50 423.13L1097.25 425.09L1097.25 429.09L1093.25 429.09L1077.50 427.13ZM1093.25 425.09L1097.25 425.09L1113.00 425.49L1113.00 429.49L1109.00 429.49L1093.25 429.09ZM1109.00 425.49L1113.00 425.49L1128.75 426.67L1128.75 430.67L1124.75 430.67L1109.00 429.49ZM1124.75 426.67L1140.50 426.27L1144.50 426.27L1144.50 430.27L1128.75 430.67L1124.75 430.67ZM1140.50 426.27L1144.50 426.27L1160.25 428.63L1160.25 432.63L1156.25 432.63L1140.50 430.27ZM1156.25 428.63L1160.25 428.63L1176.00 434.14L1176.00 438.14L1172.00 438.14L1156.25 432.63ZM1172.00 434.14L1187.75 430.99L1191.75 430.99L1191.75 434.99L1176.00 438.14L1172.00 438.14ZM1187.75 430.99L1203.50 428.63L1207.50 428.63L1207.50 432.63L1191.75 434.99L1187.75 434.99ZM1203.50 428.63L1219.25 427.45L1223.25 427.45L1223.25 431.45L1207.50 432.63L1203.50 432.63ZM1219.25 427.45L1223.25 427.45L1239.00 430.60L1239.00 434.60L1235.00 434.60L1219.25 431.45Z" fill="#ee82ee"/>
</g>
<path d="M103.5 655.5v-7.5M103.5 26.5v7.5M166.5 655.5v-7.5M166.5 26.5v7.5M229.5 655.5v-7.5M229.5 26.5v7.5M292.5 655.5v-7.5M292.5 26.5v7.5M355.5 655.5v-7.5M355.5 26.5v7.5M418.5 655.5v-7.5M418.5 26.5v7.5M481.5 655.5v-7.5M481.5 26.5v7.5M544.5 655.5v-7.5M544.5 26.5v7.5M607.5 655.5v-7.5M607.5 26.5v7.5M670.5 655.5v-7.5M670.5 26.5v7.5M733.5 655.5v-7.5M733.5 26.5v7.5M796.5 655.5v-7.5M796.5 26.5v7.5M859.5 655.5v-7.5M859.5 26.5v7.5M922.5 655.5v-7.5M922.5 26.5v7.5M985.5 655.5v-7.5M985.5 26.5v7.5M1048.5 655.5v-7.5M1048.5 26.5v7.5M1111.5 655.5v-7.5M1111.5 26.5v7.5M1174.5 655.5v-7.5M1174.5 26.5v7.5M1237.5 655.5v-7.5M1237.5 26.5v7.5M103.5 655.5h7.5M1237.5 655.5h-7.5M103.5 576.5h7.5M1237.5 576.5h-7.5M103.5 498.5h7.5M1237.5 498.5h-7.5M103.5 419.5h7.5M1237.5 419.5h-7.5M103.5 341.5h7.5M1237.5 341.5h-7.5M103.5 262.5h7.5M1237.5 262.5h-7.5M103.5 183.5h7.5M1237.5 183.5h-7.5M103.5 105.5h7.5M1237.5 105.5h-7.5M103.5 26.5h7.5M1237.5 26.5h-7.5" stroke="#000" stroke-width="1" fill="none" shape-rendering="crispEdges"/>
<rect x="103.5" y="26.5" width="1134.0" height="629.0" stroke="#000" stroke-width="1" fill="none" shape-rendering="crispEdges"/>
<text x="85.5" y="662.0" font-size="24" text-anchor="end">0</text>
<text x="85.5" y="583.0" font-size="24" text-anchor="end">2</text>
<text x="85.5" y="505.0" font-size="24" text-anchor="end">4</text>
<text x="85.5" y="426.0" font-size="24" text-anchor="end">6</text>
<text x="85.5" y="348.0" font-size="24" text-anchor="end">8</text>
<text x="85.5" y="269.0" font-size="24" text-anchor="end">10</text>
<text x="85.5" y="190.0" font-size="24" text-anchor="end">12</text>
<text x="85.5" y="112.0" font-size="24" text-anchor="end">14</text>
<text x="85.5" y="33.0" font-size="24" text-anchor="end">16</text>
<text x="103.5" y="688" font-size="24" text-anchor="middle">0</text>
<text x="166.5" y="688" font-size="24" text-anchor="middle">2</text>
<text x="229.5" y="688" font-size="24" text-anchor="middle">4</text>
<text x="292.5" y="688" font-size="24" text-anchor="middle">6</text>
<text x="355.5" y="688" font-size="24" text-anchor="middle">8</text>
<text x="418.5" y="688" font-size="24" text-anchor="middle">10</text>
<text x="481.5" y="688" font-size="24" text-anchor="middle">12</text>
<text x="544.5" y="688" font-size="24" text-anchor="middle">14</text>
<text x="607.5" y="688" font-size="24" text-anchor="middle">16</text>
<text x="670.5" y="688" font-size="24" text-anchor="middle">18</text>
<text x="733.5" y="688" font-size="24" text-anchor="middle">20</text>
<text x="796.5" y="688" font-size="24" text-anchor="middle">22</text>
<text x="859.5" y="688" font-size="24" text-anchor="middle">24</text>
<text x="922.5" y="688" font-size="24" text-anchor="middle">26</text>
<text x="985.5" y="688" font-size="24" text-anchor="middle">28</text>
<text x="1048.5" y="688" font-size="24" text-anchor="middle">30</text>
<text x="1111.5" y="688" font-size="24" text-anchor="middle">32</text>
<text x="1174.5" y="688" font-size="24" text-anchor="middle">34</text>
<text x="1237.5" y="688" font-size="24" text-anchor="middle">36</text>
<text x="597.50" y="723.50" font-size="27.50" textLength="60.00" lengthAdjust="spacingAndGlyphs">time</text>
<text x="665.50" y="723.50" font-size="27.50" textLength="74.00" lengthAdjust="spacingAndGlyphs">(UTC)</text>
<text transform="translate(25.00,551.50) rotate(-90)" font-size="27.50" textLength="389.00" lengthAdjust="spacingAndGlyphs">10m - specific humidity (g kg</text>
<text transform="translate(14.70,163.00) rotate(-90)" font-size="19.50" textLength="20.50" lengthAdjust="spacingAndGlyphs">-1</text>
<text transform="translate(25.00,139.00) rotate(-90)" font-size="27.50">)</text>
<text x="508" y="50" font-size="24.1" text-anchor="end">MesoNH</text>
<rect x="521" y="44" width="68" height="5" fill="#00ff00"/>
<text x="508" y="76" font-size="24.1" text-anchor="end">MesoNH-AROME</text>
<rect x="521" y="70" width="67" height="4" fill="#ff0000"/>
<text x="508" y="102" font-size="24.1" text-anchor="end">MesoNH-CH78</text>
<rect x="521" y="96" width="67" height="4" fill="#0000ff"/>
<text x="508" y="128" font-size="24.1" text-anchor="end">MesoNH-FLAKE</text>
<rect x="521" y="122" width="67" height="4" fill="#add8e6"/>
<text x="508" y="154" font-size="24.1" text-anchor="end">MesoNH-MEB</text>
<rect x="521" y="148" width="67" height="4" fill="#ffff00"/>
<text x="508" y="180" font-size="24.1" text-anchor="end" textLength="419.8" lengthAdjust="spacingAndGlyphs">MesoNH-CH78-FLAKE-MEB-ORORAD</text>
<rect x="521" y="174" width="67" height="4" fill="#ee82ee"/>
</svg></body></html>
